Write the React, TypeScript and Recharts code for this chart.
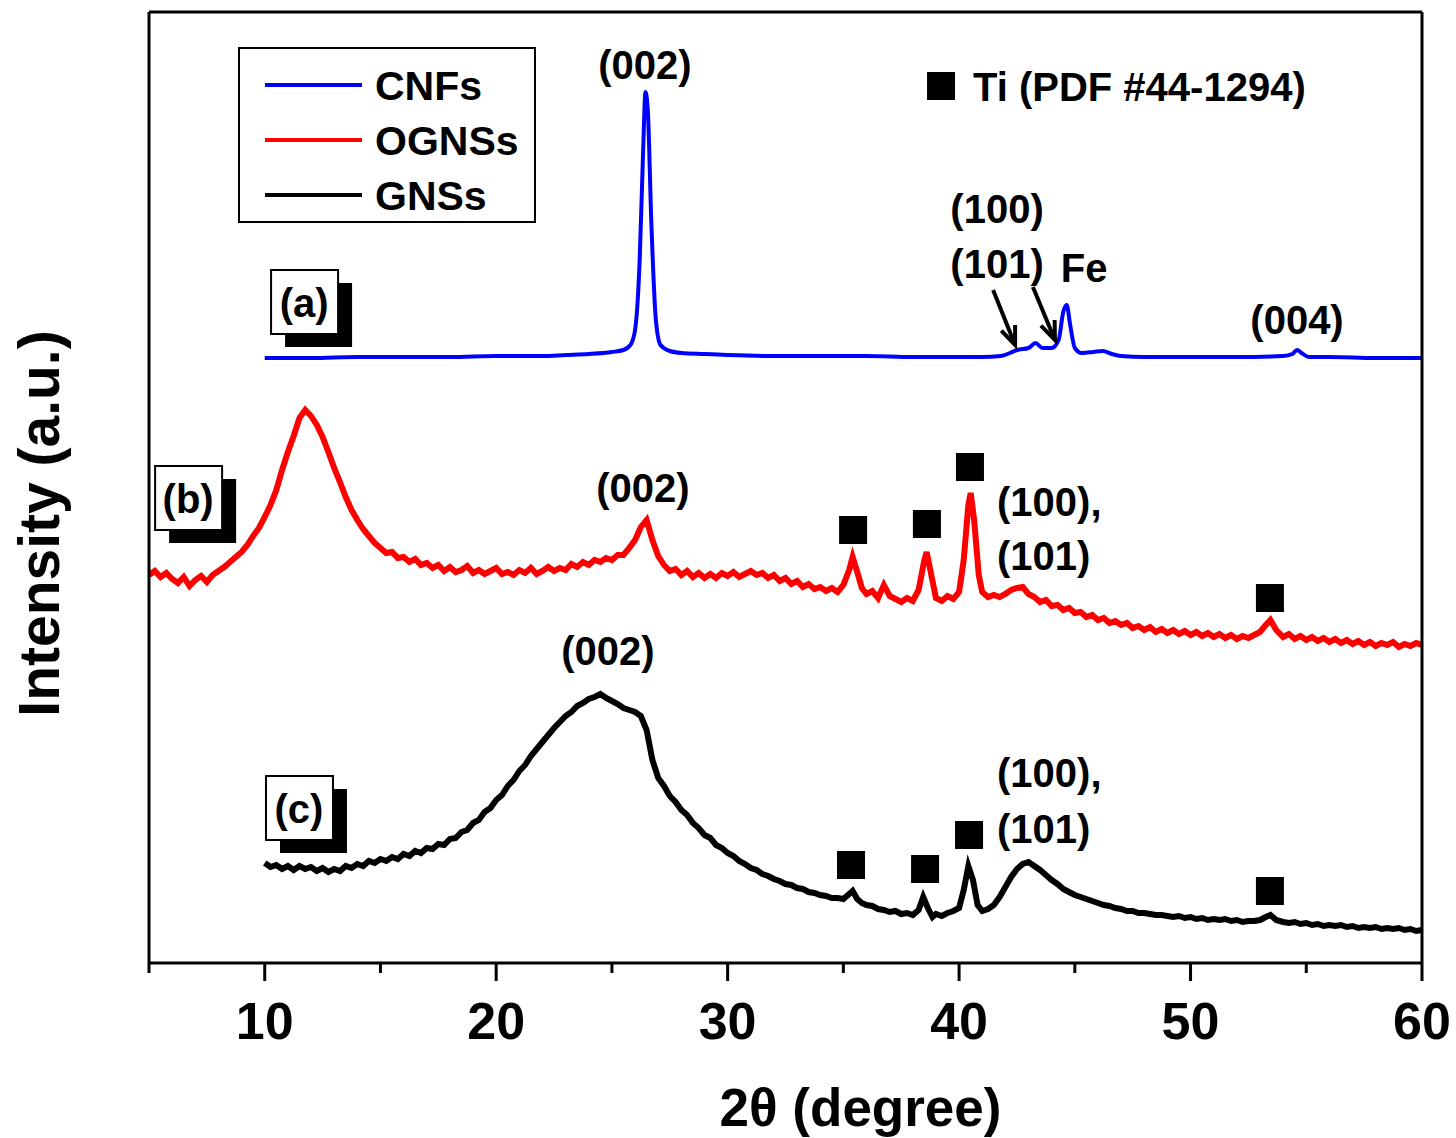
import React from 'react';
import {
  LineChart,
  Line,
  XAxis,
  YAxis,
  Legend,
  ReferenceDot,
  ReferenceLine
} from 'recharts';

// [2θ (degree), intensity (a.u., curves stacked with offsets)]
const cnfsPoints: [number, number][] = [
  [10, 605], [12, 605], [14, 606], [16, 606], [18, 606], [20, 607], [22, 607], [23, 608],
  [24, 609], [25, 611], [25.5, 613], [25.8, 618], [26.0, 633], [26.2, 703], [26.35, 813],
  [26.45, 871], [26.55, 853], [26.7, 743], [26.9, 643], [27.1, 618], [27.5, 612], [28, 610],
  [29, 609], [30, 608], [32, 607], [34, 607], [36, 607], [38, 606], [40, 606],
  [41, 606], [41.8, 607], [42.2, 610], [42.5, 613], [43, 615], [43.3, 620], [43.6, 615],
  [44, 615], [44.3, 623], [44.5, 651], [44.65, 658], [44.8, 638], [45, 615], [45.3, 610],
  [45.8, 611], [46.2, 612], [46.6, 609], [47, 607], [48, 606], [50, 606], [52, 606],
  [54, 607], [54.4, 609], [54.6, 613], [54.8, 610], [55.1, 606], [56, 606], [58, 605], [60, 605]
];

const ognssPoints: [number, number][] = [
  [5.0, 388], [5.25, 392], [5.5, 386], [5.75, 390], [6.0, 384], [6.25, 380], [6.5, 386], [6.75, 377],
  [7.0, 383], [7.25, 387], [7.5, 381], [7.75, 388], [8.0, 392], [8.25, 396], [8.5, 401], [8.75, 406],
  [9.0, 411], [9.25, 418], [9.5, 427], [9.75, 435], [10.0, 446], [10.25, 458], [10.5, 473], [10.75, 493],
  [11.0, 511], [11.25, 527], [11.5, 545], [11.75, 553], [12.0, 547], [12.25, 538], [12.5, 526], [12.75, 511],
  [13.0, 495], [13.25, 481], [13.5, 466], [13.75, 453], [14.0, 443], [14.25, 434], [14.5, 427], [14.75, 420],
  [15.0, 415], [15.25, 410], [15.5, 411], [15.75, 405], [16.0, 406], [16.25, 401], [16.5, 404], [16.75, 398],
  [17.0, 400], [17.25, 395], [17.5, 398], [17.75, 392], [18.0, 396], [18.25, 391], [18.5, 393], [18.75, 397],
  [19.0, 390], [19.25, 393], [19.5, 389], [19.75, 392], [20.0, 395], [20.25, 389], [20.5, 391], [20.75, 388],
  [21.0, 393], [21.25, 390], [21.5, 395], [21.75, 389], [22.0, 392], [22.25, 396], [22.5, 392], [22.75, 395],
  [23.0, 393], [23.25, 399], [23.5, 396], [23.75, 401], [24.0, 398], [24.25, 403], [24.5, 401], [24.75, 405],
  [25.0, 403], [25.25, 408], [25.5, 408], [25.75, 415], [26.0, 423], [26.25, 436], [26.5, 443], [26.75, 423],
  [27.0, 407], [27.25, 398], [27.5, 392], [27.75, 394], [28.0, 388], [28.25, 392], [28.5, 386], [28.75, 390],
  [29.0, 385], [29.25, 389], [29.5, 385], [29.75, 390], [30.0, 387], [30.25, 391], [30.5, 386], [30.75, 389],
  [31.0, 392], [31.25, 388], [31.5, 390], [31.75, 385], [32.0, 388], [32.25, 382], [32.5, 385], [32.75, 379],
  [33.0, 382], [33.25, 376], [33.5, 379], [33.75, 374], [34.0, 376], [34.25, 372], [34.5, 375], [34.75, 371],
  [35.0, 378], [35.25, 393], [35.4, 406], [35.6, 391], [35.8, 375], [36.0, 369], [36.25, 372], [36.5, 365],
  [36.75, 378], [37.0, 367], [37.25, 364], [37.5, 361], [37.75, 365], [38.0, 362], [38.25, 373], [38.5, 403],
  [38.6, 411], [38.8, 388], [39.0, 365], [39.25, 362], [39.5, 367], [39.75, 364], [40.0, 371], [40.2, 403],
  [40.4, 458], [40.5, 470], [40.65, 443], [40.85, 388], [41.0, 371], [41.25, 366], [41.5, 368], [41.75, 366],
  [42.0, 369], [42.25, 373], [42.5, 375], [42.75, 376], [43.0, 369], [43.25, 366], [43.5, 361], [43.75, 363],
  [44.0, 357], [44.25, 358], [44.5, 353], [44.75, 355], [45.0, 350], [45.25, 351], [45.5, 346], [45.75, 348],
  [46.0, 343], [46.25, 345], [46.5, 340], [46.75, 342], [47.0, 338], [47.25, 340], [47.5, 335], [47.75, 337],
  [48.0, 333], [48.25, 336], [48.5, 331], [48.75, 334], [49.0, 330], [49.25, 333], [49.5, 329], [49.75, 332],
  [50.0, 328], [50.25, 331], [50.5, 327], [50.75, 330], [51.0, 326], [51.25, 329], [51.5, 325], [51.75, 328],
  [52.0, 324], [52.25, 327], [52.5, 325], [52.75, 328], [53.0, 331], [53.25, 338], [53.45, 343], [53.7, 333],
  [54.0, 326], [54.25, 329], [54.5, 324], [54.75, 327], [55.0, 323], [55.25, 326], [55.5, 322], [55.75, 325],
  [56.0, 321], [56.25, 324], [56.5, 320], [56.75, 323], [57.0, 319], [57.25, 322], [57.5, 318], [57.75, 321],
  [58.0, 317], [58.25, 320], [58.5, 318], [58.75, 321], [59.0, 316], [59.25, 319], [59.5, 317], [59.75, 320],
  [60.0, 318]
];

const gnssPoints: [number, number][] = [
  [10.0, 100], [10.25, 96], [10.5, 98], [10.75, 94], [11.0, 97], [11.25, 93], [11.5, 97], [11.75, 94],
  [12.0, 96], [12.25, 92], [12.5, 95], [12.75, 91], [13.0, 94], [13.25, 92], [13.5, 97], [13.75, 95],
  [14.0, 99], [14.25, 97], [14.5, 102], [14.75, 100], [15.0, 104], [15.25, 102], [15.5, 106], [15.75, 104],
  [16.0, 109], [16.25, 107], [16.5, 112], [16.75, 110], [17.0, 115], [17.25, 114], [17.5, 119], [17.75, 118],
  [18.0, 124], [18.25, 125], [18.5, 131], [18.75, 133], [19.0, 140], [19.25, 143], [19.5, 151], [19.75, 155],
  [20.0, 163], [20.25, 168], [20.5, 177], [20.75, 183], [21.0, 192], [21.25, 198], [21.5, 207], [21.75, 214],
  [22.0, 221], [22.25, 228], [22.5, 235], [22.75, 241], [23.0, 247], [23.25, 251], [23.5, 257], [23.75, 260],
  [24.0, 264], [24.25, 266], [24.5, 269], [24.75, 265], [25.0, 262], [25.25, 259], [25.5, 255], [25.75, 253],
  [26.0, 251], [26.25, 247], [26.5, 233], [26.75, 203], [27.0, 185], [27.25, 177], [27.5, 167], [27.75, 161],
  [28.0, 153], [28.25, 148], [28.5, 140], [28.75, 135], [29.0, 128], [29.25, 125], [29.5, 118], [29.75, 115],
  [30.0, 110], [30.25, 107], [30.5, 102], [30.75, 99], [31.0, 95], [31.25, 93], [31.5, 89], [31.75, 87],
  [32.0, 84], [32.25, 82], [32.5, 79], [32.75, 78], [33.0, 75], [33.25, 74], [33.5, 71], [33.75, 70],
  [34.0, 68], [34.25, 67], [34.5, 65], [34.75, 65], [35.0, 64], [35.25, 69], [35.4, 72], [35.6, 64],
  [35.8, 60], [36.0, 58], [36.25, 57], [36.5, 54], [36.75, 53], [37.0, 51], [37.25, 52], [37.5, 49],
  [37.75, 50], [38.0, 48], [38.25, 53], [38.45, 66], [38.65, 55], [38.85, 46], [39.0, 49], [39.25, 47],
  [39.5, 50], [39.75, 52], [40.0, 55], [40.2, 73], [40.4, 97], [40.6, 83], [40.8, 58], [41.0, 52],
  [41.25, 54], [41.5, 58], [41.75, 66], [42.0, 76], [42.25, 86], [42.5, 94], [42.75, 99], [43.0, 101],
  [43.25, 97], [43.5, 93], [43.75, 88], [44.0, 83], [44.25, 79], [44.5, 74], [44.75, 71], [45.0, 68],
  [45.25, 66], [45.5, 64], [45.75, 62], [46.0, 60], [46.25, 58], [46.5, 57], [46.75, 55], [47.0, 54],
  [47.25, 52], [47.5, 52], [47.75, 50], [48.0, 50], [48.25, 49], [48.5, 48], [48.75, 48], [49.0, 47],
  [49.25, 46], [49.5, 47], [49.75, 45], [50.0, 46], [50.25, 44], [50.5, 45], [50.75, 43], [51.0, 44],
  [51.25, 43], [51.5, 44], [51.75, 42], [52.0, 43], [52.25, 41], [52.5, 42], [52.75, 42], [53.0, 43],
  [53.25, 46], [53.45, 48], [53.7, 43], [54.0, 41], [54.25, 40], [54.5, 41], [54.75, 39], [55.0, 40],
  [55.25, 38], [55.5, 39], [55.75, 37], [56.0, 38], [56.25, 37], [56.5, 38], [56.75, 36], [57.0, 37],
  [57.25, 35], [57.5, 36], [57.75, 35], [58.0, 36], [58.25, 34], [58.5, 35], [58.75, 34], [59.0, 35],
  [59.25, 33], [59.5, 34], [59.75, 32], [60.0, 33]
];

const seriesOrder = ['CNFs', 'OGNSs', 'GNSs'];

const xTicks = [5, 10, 15, 20, 25, 30, 35, 40, 45, 50, 55, 60];

// reflection labels: text, 2θ, intensity, anchor
const peakLabels: [string, number, number, 'middle' | 'start'][] = [
  ['(002)', 26.43, 898, 'middle'],
  ['(100)', 41.64, 754, 'middle'],
  ['(101)', 41.64, 699, 'middle'],
  ['Fe', 45.4, 695, 'middle'],
  ['(004)', 54.6, 643, 'middle'],
  ['Ti (PDF #44-1294)', 40.6, 876, 'start'],
  ['(002)', 26.34, 475, 'middle'],
  ['(100),', 41.64, 461, 'start'],
  ['(101)', 41.64, 407, 'start'],
  ['(002)', 24.83, 312, 'middle'],
  ['(100),', 41.64, 190, 'start'],
  ['(101)', 41.64, 134, 'start']
];

// Ti reflections (filled squares) and the key square
const tiMarks: [number, number][] = [
  [39.22, 877],
  [35.42, 433], [38.61, 439], [40.47, 496], [53.43, 365],
  [35.33, 98], [38.53, 94], [40.43, 128], [53.43, 72]
];

const panelTags: [string, number, number][] = [
  ['(a)', 11.7, 661],
  ['(b)', 6.69, 465],
  ['(c)', 11.48, 155]
];

// arrows: from [2θ, I] to [2θ, I]
const arrows: [number, number, number, number][] = [
  [41.47, 673, 42.42, 618],
  [43.19, 676, 44.14, 623]
];

const toRows = (pts: [number, number][]) =>
  pts.map(([theta, intensity]) => ({ theta, intensity }));

const FONT = '"Liberation Sans", Arial, sans-serif';

function XTick(props: any) {
  const { x, y, payload } = props;
  const major = payload.value % 10 === 0;
  return (
    <g>
      <line x1={x} x2={x} y1={y} y2={y + (major ? 18 : 10)} stroke="#000" strokeWidth={3} />
      {major && (
        <text x={x} y={y + 76} textAnchor="middle" fontSize={52} fontWeight="bold"
          fontFamily={FONT} fill="#000">
          {payload.value}
        </text>
      )}
    </g>
  );
}

function Arrow(props: any) {
  const { x1, y1, x2, y2 } = props;
  const ang = Math.atan2(y2 - y1, x2 - x1);
  const h = 20;
  const a1 = ang + Math.PI - 0.38;
  const a2 = ang + Math.PI + 0.38;
  return (
    <g stroke="#000" strokeWidth={4} fill="none">
      <line x1={x1} y1={y1} x2={x2} y2={y2} />
      <polyline points={`${x2 + h * Math.cos(a1)},${y2 + h * Math.sin(a1)} ${x2},${y2} ${x2 + h * Math.cos(a2)},${y2 + h * Math.sin(a2)}`} />
    </g>
  );
}

function LegendBox(props: any) {
  const items = [...(props.payload || [])].sort(
    (a: any, b: any) => seriesOrder.indexOf(a.value) - seriesOrder.indexOf(b.value)
  );
  return (
    <svg width={298} height={176}>
      <rect x={1} y={1} width={296} height={174} fill="#fff" stroke="#000" strokeWidth={2} />
      {items.map((it: any, i: number) => (
        <g key={it.value}>
          <line x1={27} x2={124} y1={38 + i * 55} y2={38 + i * 55} stroke={it.color} strokeWidth={4} />
          <text x={137} y={53 + i * 55} fontSize={41} fontWeight="bold" fontFamily={FONT} fill="#000">
            {it.value}
          </text>
        </g>
      ))}
    </svg>
  );
}

export default function App() {
  return (
    <div style={{ position: 'absolute', left: 0, top: 0, background: '#fff' }}>
      <LineChart width={1456} height={1138} margin={{ top: 0, right: 0, bottom: 0, left: 0 }}>
        <XAxis
          type="number"
          dataKey="theta"
          domain={[5, 60]}
          ticks={xTicks}
          interval={0}
          height={175}
          tickSize={0}
          tickMargin={0}
          tickLine={false}
          axisLine={{ stroke: '#000', strokeWidth: 3 }}
          tick={<XTick />}
          allowDataOverflow
          label={(p: any) => {
            const vb = p.viewBox || { x: 149, y: 963, width: 1273 };
            return (
              <text x={vb.x + vb.width / 2 + 75} y={vb.y + 163} textAnchor="middle"
                fontSize={53} fontWeight="bold" fontFamily={FONT} fill="#000">
                2θ (degree)
              </text>
            );
          }}
        />
        <XAxis xAxisId="top" orientation="top" type="number" domain={[5, 60]} height={12}
          tick={false} tickLine={false} axisLine={{ stroke: '#000', strokeWidth: 3 }} />
        <YAxis
          type="number"
          domain={[0, 951]}
          width={149}
          tick={false}
          tickLine={false}
          axisLine={{ stroke: '#000', strokeWidth: 3 }}
          label={(p: any) => {
            const vb = p.viewBox || { x: 0, y: 12, height: 951 };
            const cy = vb.y + vb.height / 2 + 36;
            return (
              <text x={39} y={cy} transform={`rotate(-90 39 ${cy})`} textAnchor="middle"
                dominantBaseline="central" fontSize={57} fontWeight="bold" fontFamily={FONT} fill="#000">
                Intensity (a.u.)
              </text>
            );
          }}
        />
        <YAxis yAxisId="right" orientation="right" type="number" domain={[0, 951]} width={34}
          tick={false} tickLine={false} axisLine={{ stroke: '#000', strokeWidth: 3 }} />

        <Line data={toRows(cnfsPoints)} dataKey="intensity" name="CNFs" type="monotone"
          stroke="#0000ff" strokeWidth={4} dot={false} isAnimationActive={false} />
        <Line data={toRows(ognssPoints)} dataKey="intensity" name="OGNSs" type="linear"
          stroke="#ff0000" strokeWidth={6} dot={false} isAnimationActive={false} />
        <Line data={toRows(gnssPoints)} dataKey="intensity" name="GNSs" type="linear"
          stroke="#000000" strokeWidth={6} dot={false} isAnimationActive={false} />

        {peakLabels.map(([text, theta, val, anchor], i) => (
          <ReferenceDot key={'l' + i} x={theta} y={val} r={0}
            shape={(p: any) => (
              <text x={p.cx} y={p.cy} textAnchor={anchor} dominantBaseline="central"
                fontSize={40} fontWeight="bold" fontFamily={FONT} fill="#000">
                {text}
              </text>
            )}
          />
        ))}
        {tiMarks.map(([theta, val], i) => (
          <ReferenceDot key={'s' + i} x={theta} y={val} r={0}
            shape={(p: any) => <rect x={p.cx - 14} y={p.cy - 14} width={28} height={28} fill="#000" />}
          />
        ))}
        {panelTags.map(([text, theta, val], i) => (
          <ReferenceDot key={'t' + i} x={theta} y={val} r={0}
            shape={(p: any) => (
              <g>
                <rect x={p.cx - 19} y={p.cy - 19} width={67} height={64} fill="#000" />
                <rect x={p.cx - 33} y={p.cy - 32} width={67} height={64} fill="#fff" stroke="#000" strokeWidth={2} />
                <text x={p.cx} y={p.cy + 1} textAnchor="middle" dominantBaseline="central"
                  fontSize={40} fontWeight="bold" fontFamily={FONT} fill="#000">
                  {text}
                </text>
              </g>
            )}
          />
        ))}
        {arrows.map(([t1, v1, t2, v2], i) => (
          <ReferenceLine key={'a' + i} segment={[{ x: t1, y: v1 }, { x: t2, y: v2 }]}
            shape={<Arrow />} />
        ))}

        <Legend layout="vertical" align="center" verticalAlign="middle" content={<LegendBox />}
          wrapperStyle={{ left: 238, top: 47, width: 298, height: 176 }} />
      </LineChart>
    </div>
  );
}
